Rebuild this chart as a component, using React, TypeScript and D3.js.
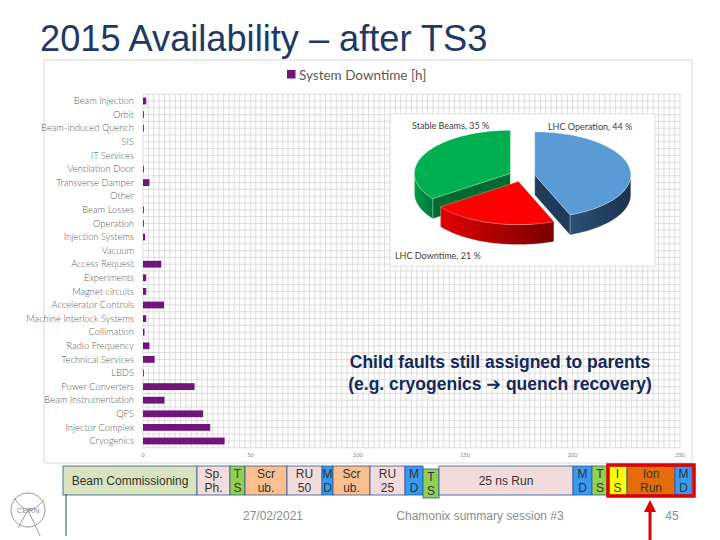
import * as d3 from "d3";
import React from "react";

// bar chart data (hours of downtime per system)
const categories = [
  "Beam Injection", "Orbit", "Beam-induced Quench", "SIS", "IT Services",
  "Ventilation Door", "Transverse Damper", "Other", "Beam Losses", "Operation",
  "Injection Systems", "Vacuum", "Access Request", "Experiments", "Magnet circuits",
  "Accelerator Controls", "Machine Interlock Systems", "Collimation", "Radio Frequency",
  "Technical Services", "LBDS", "Power Converters", "Beam Instrumentation", "QPS",
  "Injector Complex", "Cryogenics",
];
const downtimeHours = [
  1.5, 0.4, 0.4, 0, 0, 0.4, 3, 0, 0.4, 0.4, 1, 0, 8.5, 1.5, 1.5, 9.8, 1.5, 0.7, 3,
  5.4, 0.4, 24, 10, 28, 31.3, 38,
];
const xTicks = [0, 50, 100, 150, 200, 250];

// pie inset
const pieNames = ["LHC Operation", "LHC Downtime", "Stable Beams"];
const piePercents = [44, 21, 35];

// 2015 schedule strip
const blockLines = [
  ["Beam Commissioning"], ["Sp.", "Ph."], ["T", "S"], ["Scr", "ub."], ["RU", "50"],
  ["M", "D"], ["Scr", "ub."], ["RU", "25"], ["M", "D"], ["T", "S"], ["25 ns Run"],
  ["M", "D"], ["T", "S"], ["I", "S"], ["Ion", "Run"], ["M", "D"],
];
const blockWeeks = [134, 33, 15, 42, 35, 11, 37, 35, 18, 16, 134, 19, 16, 19, 48, 17];
const blockKinds = [
  "comm", "phys", "ts", "scrub", "phys", "md", "scrub", "phys", "md", "ts", "phys",
  "md", "ts", "is", "ion", "md",
];

const kindFill: Record<string, string> = {
  comm: "#D7E4BD",
  phys: "#F2DCDB",
  ts: "#92D050",
  scrub: "#FAC090",
  md: "#3A9AF0",
  is: "#FFFF00",
  ion: "#E46C0A",
};

const pieTop = ["#5B9BD5", "#FF0000", "#00B050"];
const pieCut = ["#1F3B5C", "#8E0000", "#006B30"];
const pieSideGrad = [
  ["#2E4F75", "#1B3350"],
  ["#E00000", "#780000"],
  ["#00A046", "#00753A"],
];

export default function App() {
  const x = d3.scaleLinear().domain([0, 250]).range([143, 680]);
  const y = d3
    .scaleBand<string>()
    .domain(categories)
    .range([94.2, 447.8])
    .paddingInner(0.5)
    .paddingOuter(0.25);
  const step = y.step();
  const top0 = y(categories[0])! - (step - y.bandwidth()) / 2;

  const vGrid = d3.range(0, 250.01, 2.5);
  const hGrid = d3.range(0, categories.length * 2 + 1).map((i) => top0 + (i * step) / 2);

  // pie geometry
  const cx = 522, cy = 176, rx = 96, ry = 43, depth = 20, explode = 13;
  const arcs = d3.pie<number>().sort(null).startAngle(0).endAngle(2 * Math.PI)(piePercents);
  const slices = arcs.map((a, i) => {
    const mid = (a.startAngle + a.endAngle) / 2;
    const ox = cx + explode * Math.sin(mid);
    const oy = cy - explode * (ry / rx) * Math.cos(mid);
    const rim = (t: number, dy = 0): [number, number] => [
      ox + rx * Math.sin(t),
      oy - ry * Math.cos(t) + dy,
    ];
    const samples = (a0: number, a1: number) => {
      const n = Math.max(2, Math.ceil((a1 - a0) / 0.03));
      return d3.range(n + 1).map((k) => a0 + ((a1 - a0) * k) / n);
    };
    const line = d3.line();
    const topPts: [number, number][] = [[ox, oy], ...samples(a.startAngle, a.endAngle).map((t) => rim(t))];
    const topPath = line(topPts) + "Z";
    const v0 = Math.max(a.startAngle, Math.PI / 2);
    const v1 = Math.min(a.endAngle, (3 * Math.PI) / 2);
    let sidePath: string | null = null;
    if (v1 > v0) {
      const s = samples(v0, v1);
      const pts = [...s.map((t) => rim(t)), ...s.slice().reverse().map((t) => rim(t, depth))];
      sidePath = line(pts) + "Z";
    }
    const cuts = [a.startAngle, a.endAngle].map(
      (t) =>
        line([[ox, oy], rim(t), rim(t, depth), [ox, oy + depth]]) + "Z"
    );
    return { i, topPath, sidePath, cuts, oy };
  });
  const drawOrder = [2, 0, 1];

  const bx = d3
    .scaleLinear()
    .domain([0, d3.sum(blockWeeks)])
    .range([63, 692]);
  const starts = blockWeeks.map((_, i) => d3.sum(blockWeeks.slice(0, i)));

  return (
    <svg
      width={720}
      height={540}
      style={{ position: "absolute", left: 0, top: 0, background: "#fff" }}
    >
      <defs>
        {pieSideGrad.map((g, i) => (
          <linearGradient key={i} id={`side${i}`} x1="0" x2="1" y1="0" y2="0">
            <stop offset="0%" stopColor={g[0]} />
            <stop offset="100%" stopColor={g[1]} />
          </linearGradient>
        ))}
      </defs>

      {/* slide title */}
      <text
        x={40}
        y={51}
        fontFamily="Liberation Sans, Arial, sans-serif"
        fontSize={36.2}
        fill="#1F3864"
      >
        2015 Availability – after TS3
      </text>

      {/* chart frame */}
      <rect x={44} y={60} width={648} height={403} fill="#fff" stroke="#D9D9D9" />

      {/* legend */}
      <rect x={287} y={70} width={8.5} height={8.5} fill="#70167A" />
      <text x={299} y={79.5} fontFamily="Lato, sans-serif" fontSize={13.5} fill="#595959">
        System Downtime [h]
      </text>

      {/* grid */}
      <g stroke="#D0D0D0" strokeWidth={0.7}>
        {vGrid.map((v) => (
          <line key={v} x1={x(v)} x2={x(v)} y1={top0} y2={447.8} />
        ))}
        {hGrid.map((h, i) => (
          <line key={i} x1={x(0)} x2={x(250)} y1={h} y2={h} />
        ))}
      </g>

      {/* bars */}
      {categories.map((c, i) => (
        <rect
          key={c}
          x={x(0)}
          y={y(c)}
          width={x(downtimeHours[i]) - x(0)}
          height={y.bandwidth()}
          fill="#70167A"
        />
      ))}

      {/* category labels */}
      {categories.map((c) => (
        <text
          key={c}
          x={134}
          y={y(c)! + y.bandwidth() / 2}
          dy="0.35em"
          textAnchor="end"
          fontFamily="Lato, sans-serif"
          fontSize={9.4}
          fontWeight={300}
          fill="#595959"
        >
          {c}
        </text>
      ))}

      {/* x ticks */}
      {xTicks.map((t) => (
        <text
          key={t}
          x={x(t)}
          y={457}
          textAnchor="middle"
          fontFamily="Lato, sans-serif"
          fontSize={5.5}
          fill="#808080"
        >
          {t}
        </text>
      ))}

      {/* pie inset */}
      <rect x={390} y={114} width={265} height={152} fill="#fff" stroke="#D9D9D9" strokeWidth={0.8} />
      {drawOrder.map((k) => {
        const s = slices[k];
        return (
          <g key={k} stroke="#ffffff" strokeOpacity={0.45} strokeWidth={0.5}>
            {s.cuts.map((p, j) => (
              <path key={j} d={p} fill={pieCut[k]} />
            ))}
            {s.sidePath && <path d={s.sidePath} fill={`url(#side${k})`} />}
            <path d={s.topPath} fill={pieTop[k]} />
          </g>
        );
      })}
      <g fontFamily="Lato, sans-serif" fontSize={9} fill="#404040">
        <text x={412} y={129}>{`${pieNames[2]}, ${piePercents[2]} %`}</text>
        <text x={548} y={130}>{`${pieNames[0]}, ${piePercents[0]} %`}</text>
        <text x={395} y={259}>{`${pieNames[1]}, ${piePercents[1]} %`}</text>
      </g>

      {/* annotation */}
      <g
        fontFamily="Liberation Sans, Arial, sans-serif"
        fontWeight="bold"
        fontSize={17.5}
        fill="#14285A"
        textAnchor="middle"
      >
        <text x={500} y={368}>Child faults still assigned to parents</text>
        <text x={500} y={390}>
          (e.g. cryogenics <tspan fontFamily="DejaVu Sans">➔</tspan> quench recovery)
        </text>
      </g>

      {/* schedule strip */}
      {blockLines.map((lines, i) => {
        const x0 = bx(starts[i]);
        const x1 = bx(starts[i] + blockWeeks[i]);
        const yOff = i === 9 ? 3 : 0;
        const mid = (x0 + x1) / 2;
        return (
          <g key={i}>
            <rect
              x={x0}
              y={466 + yOff}
              width={x1 - x0}
              height={29}
              fill={kindFill[blockKinds[i]]}
              stroke="#2F5597"
              strokeWidth={0.8}
            />
            {lines.length === 1 ? (
              <text
                x={mid}
                y={485}
                textAnchor="middle"
                fontFamily="Liberation Sans, Arial, sans-serif"
                fontSize={12}
                fill="#333"
              >
                {lines[0]}
              </text>
            ) : (
              lines.map((l, j) => (
                <text
                  key={j}
                  x={mid}
                  y={478 + j * 14 + yOff}
                  textAnchor="middle"
                  fontFamily="Liberation Sans, Arial, sans-serif"
                  fontSize={12}
                  fill="#333"
                >
                  {l}
                </text>
              ))
            )}
          </g>
        );
      })}
      <rect
        x={bx(starts[13])}
        y={465}
        width={bx(d3.sum(blockWeeks)) - bx(starts[13]) + 2}
        height={31}
        fill="none"
        stroke="#E00000"
        strokeWidth={3.5}
      />
      <line x1={650} x2={650} y1={540} y2={510} stroke="#E00000" strokeWidth={3} />
      <path d="M650,500 L644,512 L656,512 Z" fill="#E00000" />

      {/* footer */}
      <line x1={66} x2={66} y1={494} y2={536} stroke="#1F497D" strokeWidth={1} />
      <g fontFamily="Liberation Sans, Arial, sans-serif" fontSize={12} fill="#8C8C8C" textAnchor="middle">
        <text x={273} y={520}>27/02/2021</text>
        <text x={480} y={520}>Chamonix summary session #3</text>
        <text x={672} y={520}>45</text>
      </g>

      {/* CERN logo */}
      <g stroke="#9A9A9A" fill="none" strokeWidth={1}>
        <circle cx={28} cy={510} r={17} />
        <path d="M18,528 L28,510 L40,536" />
        <path d="M14,498 Q28,520 44,500" />
      </g>
      <text
        x={28}
        y={513}
        textAnchor="middle"
        fontFamily="Liberation Sans, Arial, sans-serif"
        fontSize={8}
        fill="#8C8C8C"
      >
        CERN
      </text>
    </svg>
  );
}
